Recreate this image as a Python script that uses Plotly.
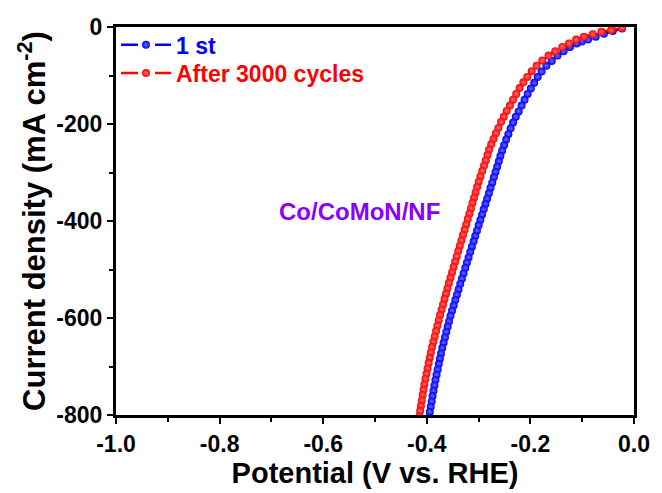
import plotly.graph_objects as go

# ---- data ----
first_v = [-0.0229, -0.0410, -0.0582, -0.0740, -0.0887, -0.1008, -0.1107, -0.1235, -0.1359, -0.1477,
           -0.1588, -0.1691, -0.1784, -0.1859, -0.1927, -0.1992, -0.2053, -0.2113, -0.2170, -0.2227,
           -0.2282, -0.2334, -0.2382, -0.2426, -0.2468, -0.2508, -0.2546,
           -0.2579, -0.2610, -0.2642, -0.2674, -0.2705, -0.2737,
           -0.2770, -0.2802, -0.2835, -0.2868, -0.2901, -0.2934,
           -0.2966, -0.2999, -0.3031, -0.3064, -0.3096, -0.3129,
           -0.3161, -0.3194, -0.3226, -0.3258, -0.3291, -0.3323,
           -0.3355, -0.3387, -0.3418, -0.3450, -0.3481, -0.3513, -0.3544,
           -0.3571, -0.3598, -0.3624, -0.3650, -0.3676, -0.3702,
           -0.3726, -0.3747, -0.3769, -0.3790, -0.3812, -0.3833,
           -0.3853, -0.3871, -0.3889, -0.3906, -0.3924, -0.3942, -0.3959]
first_j = [-3, -8, -14, -20, -26, -30, -34, -41, -50, -59,
           -70, -80, -92, -103, -115, -127, -138, -150, -162, -174,
           -185, -197, -209, -221, -232, -244, -255,
           -266, -277, -288, -299, -310, -321,
           -332, -343, -354, -365, -376, -387,
           -398, -409, -420, -431, -442, -453,
           -464, -475, -486, -497, -508, -519,
           -530, -541, -552, -563, -574, -585, -596,
           -607, -618, -629, -640, -651, -662,
           -673, -684, -695, -706, -717, -728,
           -739, -750, -761, -772, -783, -794, -805]

after_v = [-0.0229, -0.0439, -0.0630, -0.0796, -0.0968, -0.1116, -0.1256, -0.1384, -0.1521, -0.1649,
           -0.1771, -0.1880, -0.1975, -0.2061, -0.2137, -0.2208, -0.2275, -0.2336, -0.2395, -0.2458,
           -0.2513, -0.2567, -0.2618, -0.2666, -0.2712, -0.2756, -0.2798,
           -0.2828, -0.2862, -0.2896, -0.2930, -0.2964, -0.2998,
           -0.3029, -0.3058, -0.3088, -0.3118, -0.3148, -0.3178,
           -0.3209, -0.3239, -0.3270, -0.3301, -0.3332, -0.3362,
           -0.3393, -0.3423, -0.3453, -0.3483, -0.3513, -0.3543,
           -0.3573, -0.3602, -0.3630, -0.3658, -0.3687, -0.3715, -0.3744,
           -0.3770, -0.3796, -0.3821, -0.3847, -0.3873, -0.3898,
           -0.3922, -0.3943, -0.3964, -0.3985, -0.4006, -0.4027,
           -0.4047, -0.4063, -0.4080, -0.4096, -0.4113, -0.4129, -0.4146]
after_j = [-2, -6, -10, -15, -20, -26, -34, -41, -50, -59,
           -69, -80, -91, -103, -114, -126, -138, -150, -162, -173,
           -185, -196, -208, -219, -231, -242, -253,
           -264, -275, -286, -297, -308, -319,
           -330, -341, -352, -363, -374, -385,
           -396, -407, -418, -429, -440, -451,
           -462, -473, -484, -495, -506, -517,
           -528, -539, -550, -561, -572, -583, -594,
           -605, -616, -627, -638, -649, -660,
           -671, -682, -693, -704, -715, -726,
           -737, -748, -759, -770, -781, -792, -803]

series_names = ["1 st", "After 3000 cycles"]
x_ticks = [-1.0, -0.8, -0.6, -0.4, -0.2, 0.0]
x_tick_text = ["-1.0", "-0.8", "-0.6", "-0.4", "-0.2", "0.0"]
y_ticks = [0, -200, -400, -600, -800]
y_tick_text = ["0", "-200", "-400", "-600", "-800"]
sample_label = "Co/CoMoN/NF"

FONT = "Liberation Sans, Arial, sans-serif"

fig = go.Figure()

def add(xv, yv, name, color, light, legend):
    fig.add_trace(go.Scatter(
        x=xv, y=yv, mode="lines+markers", legend=legend,
        name=f"<span style='color:{color}'>{name}</span>",
        line=dict(color=color, width=2.5, dash="17px,17px"),
        marker=dict(size=8, color=color, line=dict(width=0),
                    gradient=dict(type="radial", color=light)),
    ))

add(first_v, first_j, series_names[0], "#0000ff", "#6a6aff", "legend")
add(after_v, after_j, series_names[1], "#ff0000", "#ff7070", "legend2")

fig.add_annotation(x=-0.53, y=-381, text=sample_label, showarrow=False,
                   font=dict(family=FONT, size=24, color="#8b00ff", weight="bold"))

axis_common = dict(
    showline=True, linecolor="black", linewidth=3, mirror=True,
    ticks="outside", ticklen=6, tickwidth=2, tickcolor="black",
    showgrid=False, zeroline=False,
    tickfont=dict(family=FONT, size=23, color="black", weight="bold"),
    minor=dict(ticks="outside", ticklen=4, tickwidth=2, tickcolor="black"),
)

legend_common = dict(x=0.0, xanchor="left", yanchor="middle",
                     bgcolor="rgba(0,0,0,0)", borderwidth=0,
                     font=dict(family=FONT, size=23, color="black", weight="bold"),
                     itemwidth=50)

fig.update_layout(
    width=662, height=493,
    margin=dict(l=116, r=22, t=27, b=78),
    paper_bgcolor="white", plot_bgcolor="white",
    showlegend=True,
    legend=dict(y=0.954, **legend_common),
    legend2=dict(y=0.881, **legend_common),
    xaxis=dict(range=[-1.0, 0.0], tickvals=x_ticks, ticktext=x_tick_text,
               title=dict(text="Potential (V vs. RHE)", standoff=4,
                          font=dict(family=FONT, size=29, color="black", weight="bold")),
               **axis_common),
    yaxis=dict(range=[-800, 0], tickvals=y_ticks, ticktext=y_tick_text,
               title=dict(text="Current density (mA cm<sup>-2</sup>)", standoff=2,
                          font=dict(family=FONT, size=31, color="black", weight="bold")),
               **axis_common),
)
fig.update_xaxes(minor=dict(tickvals=[-0.9, -0.7, -0.5, -0.3, -0.1]))
fig.update_yaxes(minor=dict(tickvals=[-100, -300, -500, -700]))

fig.write_html("out.html")
